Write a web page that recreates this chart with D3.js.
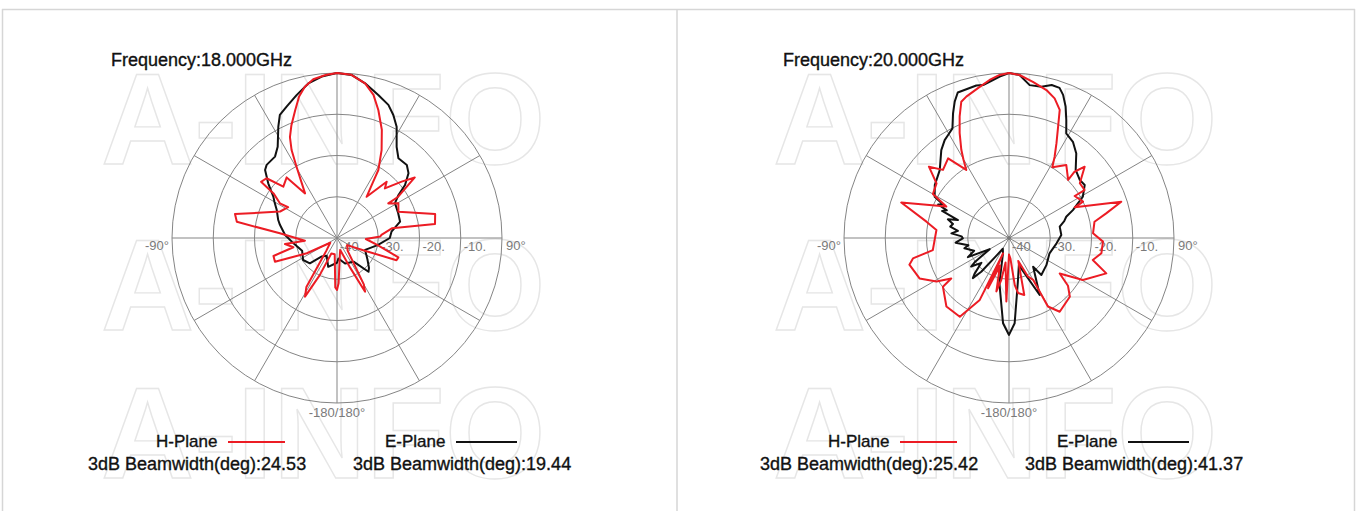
<!DOCTYPE html>
<html>
<head>
<meta charset="utf-8">
<script src="https://cdn.jsdelivr.net/npm/d3@7"></script>
<style>
  html, body { margin: 0; padding: 0; background: #fff; }
  svg { display: block; }
  text { font-family: "Liberation Sans", Arial, sans-serif; }
</style>
</head>
<body>
<div id="chart"></div>
<script>
// --- data: [angle deg, level dB] ---
var frequencies = ["18.000", "20.000"];
var beamwidthH = ["24.53", "25.42"];
var beamwidthE = ["19.44", "41.37"];

var hPlane18 = [
  [-180,-27.4],[-178,-28],[-172,-36],[-160,-36],[-155,-30],[-151.4,-23.8],[-148,-26],[-140,-36],
  [-125,-38],[-116.8,-31.8],[-110.9,-23.9],[-105.8,-24],[-102,-29.2],[-96.6,-27.3],[-94.8,-32.2],
  [-85.3,-26.1],[-80.8,-15.4],[-76.8,-14.6],[-65,-24.8],[-57.8,-26],[-58.7,-23.8],[-54.9,-21.2],
  [-53.5,-17.1],[-49.7,-17.6],[-46.3,-22],[-39.7,-20.9],[-35.6,-26.7],[-32,-23.4],[-29.5,-20],
  [-27.3,-16],[-25,-13],[-22,-10.5],[-18,-7.3],[-15,-4.5],[-12,-2.5],[-8.5,-1.1],[-4,-0.4],[0,0],
  [5,-0.3],[10.3,-1.9],[14.3,-4.2],[17.9,-7.4],[22.5,-11.6],[26.9,-16.1],[31.3,-20.7],[33.2,-24.6],
  [35.7,-27.7],[41.4,-21.8],[44,-23.3],[48.9,-19.2],[52.1,-16.1],[56,-22.1],[56,-25],[60.5,-22.9],
  [66.8,-23.8],[76.2,-15.5],[81.9,-16],[80,-26.5],[86,-29.2],[88,-29.5],[92,-33],[100,-30],
  [107.5,-24.4],[110.5,-24.6],[115,-33],[125,-37],[140,-36],[150,-27],[152.4,-25.3],[156,-32],
  [165,-37],[170,-36],[178,-29]
];
var ePlane18 = [
  [-180,-34],[-163,-32.7],[-150,-35],[-140.6,-34.2],[-133,-31],[-123,-30.2],[-110,-31],[-94.6,-29],
  [-86.7,-27.4],[-77,-25.8],[-73,-25.1],[-65.1,-23.9],[-60,-22.5],[-57,-21.6],[-51.5,-18.7],
  [-46.6,-16],[-43.9,-15.4],[-37.3,-15.2],[-33,-13.6],[-27.8,-9.5],[-24.9,-7.1],[-21,-5.9],
  [-15.8,-4],[-10.5,-1.9],[-5.4,-0.7],[0,0],[5.1,-0.3],[10.3,-1.9],[16.1,-3.9],[21.1,-5.4],
  [24.6,-7.2],[28.2,-9.4],[33.2,-13.6],[37.6,-15.6],[43.7,-15.5],[47.8,-16.6],[52.1,-19.1],
  [55,-21.8],[59,-23.6],[68,-24],[75.5,-24.2],[83.4,-26.7],[90,-27.2],[100,-30],[113,-32.6],
  [125,-31],[133,-29.4],[137,-28.8],[145,-33],[162.5,-33.5],[176,-35]
];
var hPlane20 = [
  [-180,-36],[-177.6,-24.6],[-172,-34],[-169.6,-29.7],[-166.7,-26.7],[-162,-33],[-157.4,-26.8],
  [-159,-36],[-154.7,-23.4],[-148,-17.5],[-137.6,-17.5],[-126.4,-20.1],[-125,-22.9],[-121,-19.5],
  [-114.3,-16.2],[-105,-15],[-102,-16.2],[-99,-21.3],[-83.7,-22.3],[-78.8,-19.6],[-71.8,-12.5],
  [-63.4,-23],[-60,-18.7],[-53,-18],[-48.3,-14],[-44.1,-17],[-37.4,-15.7],[-32.1,-20.5],
  [-30.2,-18.1],[-28.4,-15.7],[-25.2,-11.9],[-22.1,-8.2],[-19.3,-5],[-16.8,-4.2],[-11.7,-2.9],
  [-7,-1.4],[-3.3,-0.4],[0,0],[3.7,-0.4],[8.7,-1.7],[14.2,-3],[18.1,-4.4],[21.6,-6.6],[23.8,-10.5],
  [26.6,-14.3],[29.3,-17.4],[31.5,-19.9],[38.1,-17.5],[45.5,-19.9],[44.7,-17.4],[46.7,-14.8],
  [52.3,-18.3],[57.6,-18.3],[57.4,-21.1],[63.8,-20],[65,-22.4],[72.1,-11.4],[75.8,-15.7],
  [79.2,-18.9],[86.8,-19.6],[92.2,-17.2],[99.4,-17.3],[104.7,-19],[110,-14.9],[119.6,-19.4],
  [125,-25],[129,-21.6],[134,-19.5],[145.5,-18.3],[150.4,-20.9],[150,-28.3],[153.8,-29.6],
  [158,-34],[165,-25.7],[170.7,-26.5],[173,-28.5],[176,-35]
];
var ePlane20 = [
  [-180,-16.5],[-176,-19.3],[-168,-28.8],[-158.6,-36],[-150,-37],[-145,-35],[-140.6,-29.4],
  [-138,-26.9],[-136,-28],[-132,-31],[-127,-28.5],[-125,-30],[-120,-34.6],[-115,-29],[-110,-31],
  [-103,-28.9],[-100,-30],[-95,-27],[-90.4,-28.8],[-88,-28.5],[-85.4,-26],[-82,-27.5],[-79,-25.5],
  [-76,-26],[-73,-24.5],[-70.6,-26.9],[-68,-22.5],[-66,-23.5],[-64.6,-21],[-63,-22],[-61,-19.4],
  [-54.5,-17.9],[-45.6,-16.5],[-37.6,-13.1],[-33.3,-11.6],[-30.6,-11],[-27.3,-10.1],[-24.2,-6.9],
  [-21.7,-4.4],[-19.4,-2.6],[-12.1,-2.2],[-9.6,-2.4],[-5.8,-1.5],[-3.3,-0.8],[0,0],[3.7,-0.4],
  [7.7,-2.6],[12.1,-2.5],[15.6,-1.5],[18.6,-1.6],[20.7,-2.9],[23.3,-5.3],[25.9,-8.2],[28.7,-11.1],
  [33.6,-12],[38.5,-13.8],[44.4,-16.9],[50.6,-17.8],[55,-17.6],[60.8,-19.5],[63.3,-21.3],
  [66.4,-23.1],[69.6,-25.2],[73,-26],[77.4,-27.4],[86.7,-27.3],[96.4,-28.4],[110.7,-29.5],
  [126,-28.8],[138.8,-28.1],[140,-30.9],[151.7,-24.3],[160,-33],[168.8,-29],[176.2,-19.3]
];

var ringLevels = [-30, -20, -10, 0];
var ringLabelLevels = [-40, -30, -20, -10];
var ringLabels = ["-40", "-30.", "-20.", "-10."];
var spokeAngles = d3.range(0, 360, 30);

var panels = [
  { freq: frequencies[0], h: hPlane18, e: ePlane18, bwH: beamwidthH[0], bwE: beamwidthE[0] },
  { freq: frequencies[1], h: hPlane20, e: ePlane20, bwH: beamwidthH[1], bwE: beamwidthE[1] }
];

var width = 1357, height = 511;
var R = 165, panelShift = 672;

var svg = d3.select("#chart").append("svg")
  .attr("width", width)
  .attr("height", height);

// table frame
var frame = svg.append("g").attr("stroke", "#d6d6d6").attr("stroke-width", 1.5);
frame.append("line").attr("x1", 2).attr("x2", 1355).attr("y1", 9.5).attr("y2", 9.5);
frame.append("line").attr("x1", 2.5).attr("x2", 2.5).attr("y1", 9).attr("y2", height);
frame.append("line").attr("x1", 677).attr("x2", 677).attr("y1", 9).attr("y2", height);
frame.append("line").attr("x1", 1354.5).attr("x2", 1354.5).attr("y1", 9).attr("y2", height);

var r = d3.scaleLinear().domain([-40, 0]).range([0, R]).clamp(true);
var radial = d3.lineRadial()
  .angle(function (d) { return d[0] * Math.PI / 180; })
  .radius(function (d) { return r(d[1]); })
  .curve(d3.curveLinearClosed);

function label(g, x, y, size, str) {
  return g.append("text").attr("x", x).attr("y", y)
    .attr("font-size", size).attr("fill", "#111")
    .attr("stroke", "#111").attr("stroke-width", 0.35)
    .text(str);
}

panels.forEach(function (p, i) {
  var ox = i * panelShift;
  var cx = 337 + ox, cy = 238;
  var g = svg.append("g");

  // watermark
  [164, 330, 478].forEach(function (y) {
    g.append("text")
      .attr("x", 101 + ox).attr("y", y)
      .attr("font-size", 129)
      .attr("font-weight", "bold")
      .attr("fill", "none")
      .attr("stroke", "#e6e6e6")
      .attr("stroke-width", 1.4)
      .text("A-INFO");
  });

  var plot = g.append("g").attr("transform", "translate(" + cx + "," + cy + ")");

  plot.selectAll(".ring").data(ringLevels).enter().append("circle")
    .attr("r", function (d) { return r(d); })
    .attr("fill", "none")
    .attr("stroke", "#858585")
    .attr("stroke-width", 1);

  plot.selectAll(".spoke").data(spokeAngles).enter().append("line")
    .attr("x1", 0).attr("y1", 0)
    .attr("x2", function (a) { return R * Math.sin(a * Math.PI / 180); })
    .attr("y2", function (a) { return -R * Math.cos(a * Math.PI / 180); })
    .attr("stroke", "#858585")
    .attr("stroke-width", 1);

  plot.selectAll(".rlab").data(ringLabelLevels).enter().append("text")
    .attr("x", function (d) { return r(d) + 3; })
    .attr("y", 13)
    .attr("font-size", 13)
    .attr("fill", "#7a7a7a")
    .text(function (d, j) { return ringLabels[j]; });

  plot.append("text").attr("x", -R - 3).attr("y", 12).attr("text-anchor", "end")
    .attr("font-size", 13).attr("fill", "#7a7a7a").text("-90°");
  plot.append("text").attr("x", R + 4).attr("y", 12)
    .attr("font-size", 13).attr("fill", "#7a7a7a").text("90°");
  plot.append("text").attr("x", 0).attr("y", R + 14).attr("text-anchor", "middle")
    .attr("font-size", 13).attr("fill", "#7a7a7a").text("-180/180°");

  plot.append("path").datum(p.e)
    .attr("d", radial)
    .attr("fill", "none")
    .attr("stroke", "#111")
    .attr("stroke-width", 2)
    .attr("stroke-linejoin", "round");
  plot.append("path").datum(p.h)
    .attr("d", radial)
    .attr("fill", "none")
    .attr("stroke", "#ec1c24")
    .attr("stroke-width", 2)
    .attr("stroke-linejoin", "round");

  if (i === 1) plot.append("circle").attr("r", 2).attr("fill", "#777");

  // title
  label(g, 111 + ox, 66, 18, "Frequency:" + p.freq + "GHz");

  // legend
  label(g, 156 + ox, 447, 17, "H-Plane");
  g.append("line").attr("x1", 228 + ox).attr("x2", 285 + ox).attr("y1", 442).attr("y2", 442)
    .attr("stroke", "#ec1c24").attr("stroke-width", 2);
  label(g, 385 + ox, 447, 17, "E-Plane");
  g.append("line").attr("x1", 456 + ox).attr("x2", 517 + ox).attr("y1", 442).attr("y2", 442)
    .attr("stroke", "#111").attr("stroke-width", 2);
  label(g, 88 + ox, 470, 18, "3dB Beamwidth(deg):" + p.bwH);
  label(g, 353 + ox, 470, 18, "3dB Beamwidth(deg):" + p.bwE);
});
</script>
</body>
</html>
